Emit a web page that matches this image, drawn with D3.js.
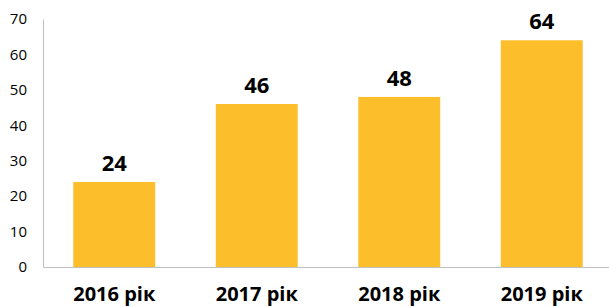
<!DOCTYPE html>
<html>
<head>
<meta charset="utf-8">
<script src="https://cdn.jsdelivr.net/npm/d3@7"></script>
<style>
  body { margin: 0; background: #fff; }
  svg { display: block; font-family: "Open Sans", sans-serif; }
</style>
</head>
<body>
<div id="chart"></div>
<script>
// data
var years = ["2016 рік", "2017 рік", "2018 рік", "2019 рік"];
var values = [24, 46, 48, 64];
var yTicks = [0, 10, 20, 30, 40, 50, 60, 70];

var W = 609, H = 307;
var plotLeft = 43, plotRight = 613, plotTop = 19, plotBottom = 267;

var svg = d3.select("#chart").append("svg")
    .attr("width", W)
    .attr("height", H);

var x = d3.scaleBand().domain(years).range([plotLeft, plotRight]).padding(0);
var y = d3.scaleLinear().domain([0, 70]).range([plotBottom, plotTop]);
var barW = x.bandwidth() * 0.575;

// bars
svg.selectAll("rect.bar")
    .data(values)
  .enter().append("rect")
    .attr("class", "bar")
    .attr("x", function(d, i) { return x(years[i]) + (x.bandwidth() - barW) / 2; })
    .attr("y", function(d) { return y(d); })
    .attr("width", barW)
    .attr("height", function(d) { return y(0) - y(d); })
    .attr("fill", "#FDBE2B");

// value labels
svg.selectAll("text.val")
    .data(values)
  .enter().append("text")
    .attr("class", "val")
    .attr("x", function(d, i) { return x(years[i]) + x.bandwidth() / 2; })
    .attr("y", function(d) { return y(d) - 11; })
    .attr("text-anchor", "middle")
    .style("font-size", "22px")
    .style("font-weight", "bold")
    .attr("fill", "#000")
    .text(function(d) { return d; });

// y axis
var yAxis = svg.append("g")
    .attr("transform", "translate(" + plotLeft + ",0)")
    .call(d3.axisLeft(y).tickValues(yTicks).tickSize(0).tickPadding(16));
yAxis.select(".domain").attr("stroke", "#bfbfbf");
yAxis.selectAll("text")
    .style("font-size", "15px")
    .style("font-family", "Open Sans, sans-serif")
    .attr("fill", "#000");

// x axis
var xAxis = svg.append("g")
    .attr("transform", "translate(0," + plotBottom + ")")
    .call(d3.axisBottom(x).tickSize(0).tickPadding(20));
xAxis.select(".domain").attr("stroke", "#bfbfbf");
xAxis.selectAll("text")
    .style("font-size", "20px")
    .style("font-weight", "bold")
    .style("font-family", "Open Sans, sans-serif")
    .attr("fill", "#000");
</script>
</body>
</html>
